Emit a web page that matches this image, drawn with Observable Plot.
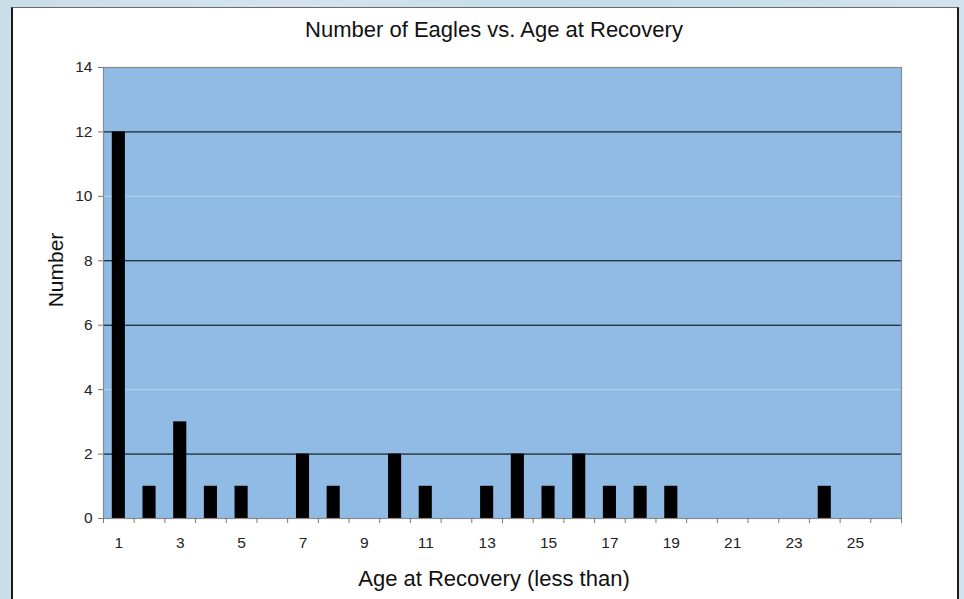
<!DOCTYPE html>
<html>
<head>
<meta charset="utf-8">
<script src="https://cdn.jsdelivr.net/npm/d3@7"></script>
<script src="https://cdn.jsdelivr.net/npm/@observablehq/plot@0.6"></script>
<style>
  html, body { margin: 0; padding: 0; }
  body {
    width: 964px; height: 599px; overflow: hidden; position: relative;
    background: linear-gradient(90deg, #c9dde9 0%, #d3e4ee 30%, #c4dbea 60%, #d1e3ee 100%);
    font-family: "Liberation Sans", Arial, sans-serif;
  }
  #panel {
    position: absolute; left: 11px; top: 7px; width: 948px; height: 610px;
    background: #fff; border-left: 2px solid #1a1a1a; border-right: 2px solid #1a1a1a;
    border-top: 1px solid #6a6a6a; box-sizing: border-box;
  }
  #chart { position: absolute; left: 0; top: 0; }
  #chart svg text { font-size: 15.5px; }
  .lbl { position: absolute; color: #111; white-space: nowrap; }
  #title { left: 0; width: 988px; text-align: center; top: 17px; font-size: 22px; }
  #xtitle { left: 0; width: 988px; text-align: center; top: 566px; font-size: 22px; }
  #ytitle { left: 56px; top: 270px; font-size: 21px; transform: translate(-50%, -50%) rotate(-90deg); }
</style>
</head>
<body>
<div id="panel"></div>
<div id="chart"></div>
<div class="lbl" id="title">Number of Eagles vs. Age at Recovery</div>
<div class="lbl" id="xtitle">Age at Recovery (less than)</div>
<div class="lbl" id="ytitle">Number</div>
<script>
const ages = d3.range(1, 27);
const counts = [12, 1, 3, 1, 1, 0, 2, 1, 0, 2, 1, 0, 1, 2, 1, 2, 1, 1, 1, 0, 0, 0, 0, 1, 0, 0];
const xTickLabels = [1, 3, 5, 7, 9, 11, 13, 15, 17, 19, 21, 23, 25];
const yTicks = [0, 2, 4, 6, 8, 10, 12, 14];
const gridStrong = [2, 6, 8, 12];
const gridFaint = [4, 10];

const data = ages.map((a, i) => ({age: a, count: counts[i]}));

const W = 964, H = 599;
const mL = 103, mR = 63, mT = 67, mB = 81;
const bw = (W - mL - mR) / ages.length;
const yPerPx = 14 / (H - mT - mB);

const chart = Plot.plot({
  width: W, height: H,
  marginLeft: mL, marginRight: mR, marginTop: mT, marginBottom: mB,
  style: {background: "transparent", fontFamily: "'Liberation Sans', Arial, sans-serif", fontSize: "15px", color: "#222"},
  x: {type: "band", domain: ages, padding: 0, round: false, axis: null},
  y: {domain: [0, 14], axis: null},
  marks: [
    Plot.frame({fill: "#8fbbe4", stroke: null}),
    Plot.ruleY(gridFaint, {stroke: "#b9d3ec", strokeWidth: 1}),
    Plot.ruleY(gridStrong, {stroke: "#000", strokeWidth: 1}),
    Plot.barY(data.filter(d => d.count > 0), {x: "age", y: "count", fill: "#000", insetLeft: 8.8, insetRight: 8.8}),
    Plot.frame({stroke: "#8a8a8a", strokeWidth: 1.2}),
    Plot.ruleX(ages, {x: d => d, dx: -bw / 2, y1: 0, y2: -5 * yPerPx, stroke: "#777"}),
    Plot.ruleX([ages[ages.length - 1]], {x: d => d, dx: bw / 2, y1: 0, y2: -5 * yPerPx, stroke: "#777"}),
    Plot.axisY({ticks: yTicks, tickSize: 5, tickPadding: 6, fontSize: 15, stroke: "#777", color: "#222", label: null}),
    Plot.axisX({ticks: xTickLabels, tickSize: 0, tickPadding: 18, fontSize: 15, color: "#222", label: null})
  ]
});
document.getElementById("chart").appendChild(chart);
</script>
</body>
</html>
